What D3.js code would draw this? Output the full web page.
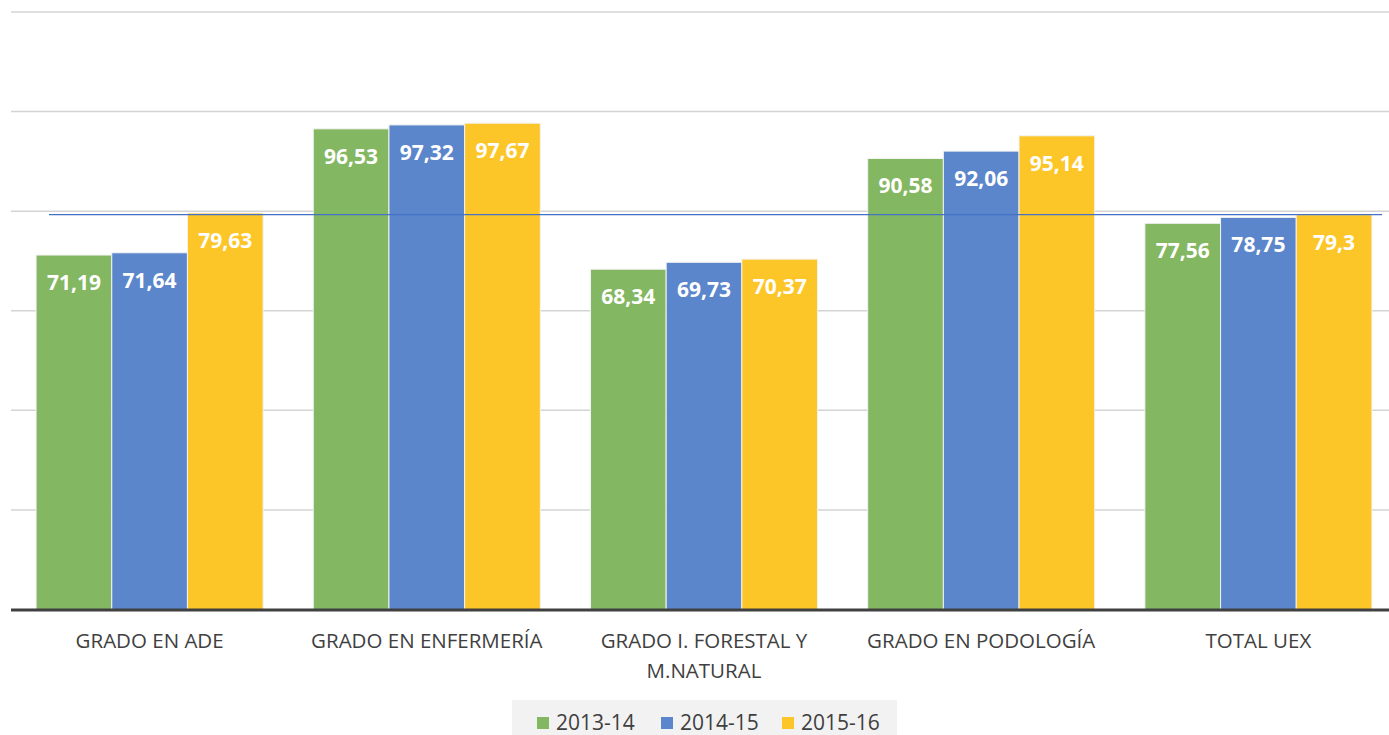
<!DOCTYPE html>
<html>
<head>
<meta charset="utf-8">
<script src="https://cdn.jsdelivr.net/npm/d3@7"></script>
<style>
  body { margin: 0; background: #fff; }
  svg text { font-family: "Open Sans", "Noto Sans", sans-serif; }
</style>
</head>
<body>
<div id="chart"></div>
<script>
const categories = [['GRADO EN ADE'], ['GRADO EN ENFERMERÍA'], ['GRADO I. FORESTAL Y', 'M.NATURAL'], ['GRADO EN PODOLOGÍA'], ['TOTAL UEX']];
const seriesNames = ['2013-14', '2014-15', '2015-16'];
const values2013 = [71.19, 96.53, 68.34, 90.58, 77.56];
const values2014 = [71.64, 97.32, 69.73, 92.06, 78.75];
const values2015 = [79.63, 97.67, 70.37, 95.14, 79.3];
const refValue = 79.3;
const yTicks = [0, 20, 40, 60, 80, 100, 120];

const colors = ['#84b761', '#5b86cb', '#fdc628'];
const width = 1389, height = 735;
// plot area runs a little past the right edge of the picture
const plotLeft = 11, plotRight = 1397, plotTop = 12, plotBottom = 609.5;

const svg = d3.select('#chart').append('svg')
  .attr('width', width)
  .attr('height', height);

const x0 = d3.scaleBand()
  .domain(d3.range(categories.length))
  .range([plotLeft, plotRight])
  .paddingInner(0.181)
  .paddingOuter(0.0905);

const x1 = d3.scaleBand()
  .domain(d3.range(seriesNames.length))
  .range([0, x0.bandwidth()]);

const y = d3.scaleLinear()
  .domain([0, 120])
  .range([plotBottom, plotTop]);

// gridlines
svg.append('g')
  .selectAll('line')
  .data(yTicks.slice(1))
  .enter().append('line')
    .attr('x1', plotLeft)
    .attr('x2', width)
    .attr('y1', d => y(d))
    .attr('y2', d => y(d))
    .attr('stroke', '#d4d4d4')
    .attr('stroke-width', 1.5);

const series = [values2013, values2014, values2015];

const groups = svg.append('g')
  .selectAll('g')
  .data(categories)
  .enter().append('g')
    .attr('transform', (d, i) => `translate(${x0(i)},0)`);

groups.selectAll('rect')
  .data((d, i) => series.map((s, k) => ({ k: k, v: s[i] })))
  .enter().append('rect')
    .attr('x', d => x1(d.k))
    .attr('y', d => y(d.v))
    .attr('width', x1.bandwidth())
    .attr('height', d => plotBottom - y(d.v))
    .attr('fill', d => colors[d.k])
    .attr('stroke', '#f2f2f2')
    .attr('stroke-width', 1);

groups.selectAll('text.val')
  .data((d, i) => series.map((s, k) => ({ k: k, v: s[i] })))
  .enter().append('text')
    .attr('class', 'val')
    .attr('x', d => x1(d.k) + x1.bandwidth() / 2)
    .attr('y', d => y(d.v) + 35)
    .attr('text-anchor', 'middle')
    .attr('fill', '#fff')
    .attr('font-weight', 'bold')
    .attr('font-size', '21px')
    .text(d => String(d.v).replace('.', ','));

// reference line
svg.append('line')
  .attr('x1', 49)
  .attr('x2', 1382)
  .attr('y1', y(refValue))
  .attr('y2', y(refValue))
  .attr('stroke', '#4472c4')
  .attr('stroke-width', 1.2);

// baseline
svg.append('line')
  .attr('x1', plotLeft)
  .attr('x2', width)
  .attr('y1', plotBottom + 0.5)
  .attr('y2', plotBottom + 0.5)
  .attr('stroke', '#404040')
  .attr('stroke-width', 3);

// category labels
groups.each(function(lines, i) {
  const t = d3.select(this).append('text')
    .attr('text-anchor', 'middle')
    .attr('fill', '#404040')
    .attr('font-size', '20.5px');
  lines.forEach((line, j) => {
    t.append('tspan')
      .attr('x', x0.bandwidth() / 2)
      .attr('y', 648 + j * 30)
      .text(line);
  });
});

// legend
const legend = svg.append('g');
legend.append('rect')
  .attr('x', 512)
  .attr('y', 700)
  .attr('width', 385)
  .attr('height', 35)
  .attr('fill', '#f2f2f2');

const legendX = [537, 661, 782];
seriesNames.forEach((name, k) => {
  legend.append('rect')
    .attr('x', legendX[k])
    .attr('y', 717)
    .attr('width', 12)
    .attr('height', 12)
    .attr('fill', colors[k]);
  legend.append('text')
    .attr('x', legendX[k] + 19)
    .attr('y', 730)
    .attr('fill', '#404040')
    .attr('font-size', '21px')
    .text(name);
});
</script>
</body>
</html>
